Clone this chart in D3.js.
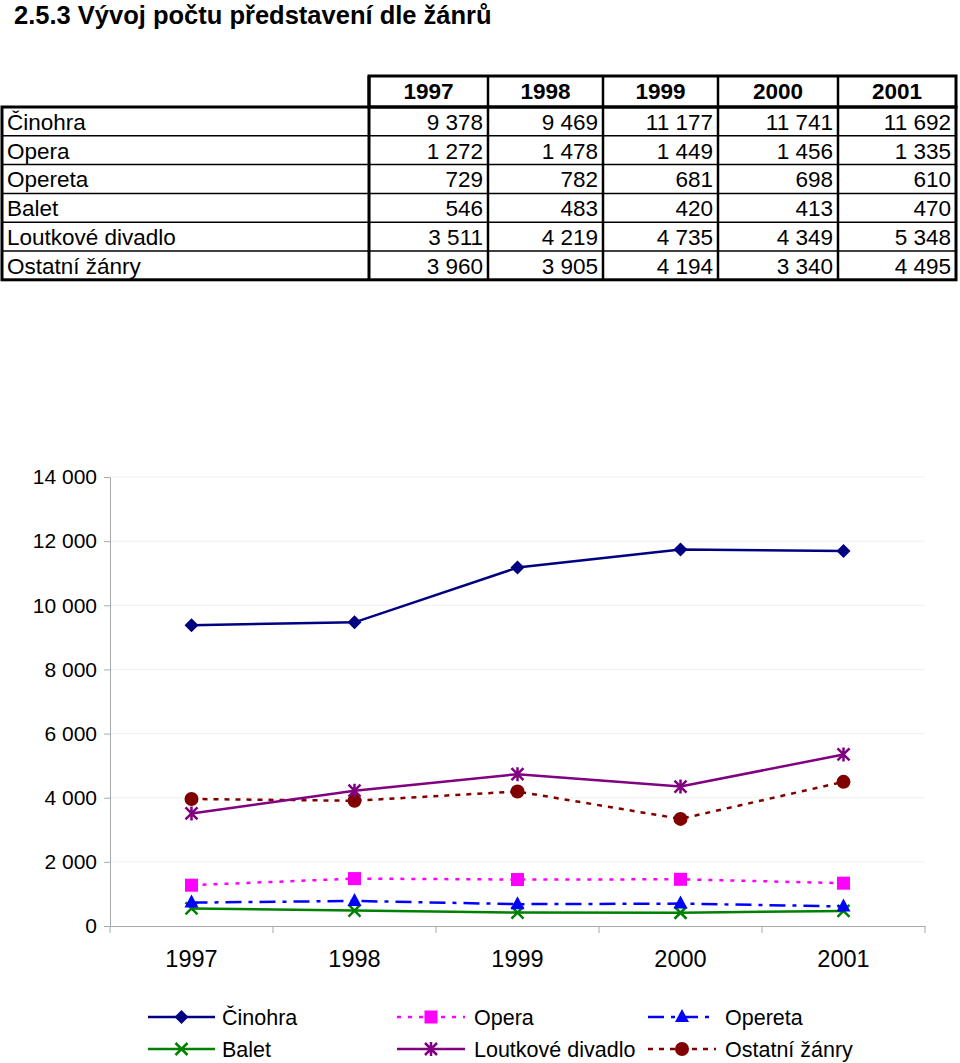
<!DOCTYPE html>
<html><head><meta charset="utf-8">
<script src="https://cdn.jsdelivr.net/npm/d3@7"></script>
<style>body{margin:0;background:#fff;} svg{display:block;font-family:"Liberation Sans",Arial,sans-serif;}</style>
</head><body>
<script>
const years = ["1997","1998","1999","2000","2001"];
const genres = ["Činohra","Opera","Opereta","Balet","Loutkové divadlo","Ostatní žánry"];
const cinohra = [9378,9469,11177,11741,11692];
const opera = [1272,1478,1449,1456,1335];
const opereta = [729,782,681,698,610];
const balet = [546,483,420,413,470];
const loutkove = [3511,4219,4735,4349,5348];
const ostatni = [3960,3905,4194,3340,4495];
const yTicks = [0,2000,4000,6000,8000,10000,12000,14000];
const seriesValues = [cinohra,opera,opereta,balet,loutkove,ostatni];

const styles = [
  {color:"#000080", dash:null, marker:"diamond"},
  {color:"#FF00FF", dash:"4,7", marker:"square"},
  {color:"#0000FF", dash:"16,7,4,7", marker:"triangle"},
  {color:"#008000", dash:null, marker:"x"},
  {color:"#800080", dash:null, marker:"star"},
  {color:"#800000", dash:"5,6", marker:"circle"}
];

const W=960,H=1063;
const svg=d3.select("body").append("svg").attr("width",W).attr("height",H);
const fmt = v => d3.format(",")(v).replace(/,/g," ");

// Title
svg.append("text").attr("x",14).attr("y",24).attr("font-size",25.5).attr("font-weight","bold").text("2.5.3 Vývoj počtu představení dle žánrů");

// Table
const colEdges=[2,369,488,603,718,838,956];
const rowTop=107,rowH=28.8,headTop=76;
const tg=svg.append("g");
tg.append("rect").attr("x",369).attr("y",headTop).attr("width",956-369).attr("height",rowTop-headTop).attr("fill","none").attr("stroke","#000").attr("stroke-width",3);
years.forEach((yy,i)=>{
  const x0=colEdges[i+1],x1=colEdges[i+2];
  tg.append("text").attr("x",(x0+x1)/2).attr("y",rowTop-8).attr("text-anchor","middle").attr("font-weight","bold").attr("font-size",22.5).text(yy);
});
const tableBottom=rowTop+rowH*genres.length;
tg.append("rect").attr("x",2).attr("y",rowTop).attr("width",954).attr("height",tableBottom-rowTop).attr("fill","none").attr("stroke","#000").attr("stroke-width",3);
genres.forEach((g,r)=>{
  const y0=rowTop+r*rowH;
  if(r>0) tg.append("line").attr("x1",2).attr("x2",956).attr("y1",y0).attr("y2",y0).attr("stroke","#000").attr("stroke-width",1.5);
  tg.append("text").attr("x",7).attr("y",y0+rowH-6).attr("font-size",22.5).text(g);
  seriesValues[r].forEach((v,i)=>{
    tg.append("text").attr("x",colEdges[i+2]-5).attr("y",y0+rowH-6).attr("font-size",22.5).attr("text-anchor","end").text(fmt(v));
  });
});
for(let i=1;i<colEdges.length-1;i++){
  tg.append("line").attr("x1",colEdges[i]).attr("x2",colEdges[i]).attr("y1",headTop).attr("y2",tableBottom).attr("stroke","#000").attr("stroke-width",i===1?3:2.5);
}

// Chart
const pLeft=110,pRight=925,pTop=477,pBottom=926;
const x=d3.scaleBand().domain(years).range([pLeft,pRight]);
const y=d3.scaleLinear().domain([0,14000]).range([pBottom,pTop]);
const cg=svg.append("g");
yTicks.forEach(t=>{
  if(t>0) cg.append("line").attr("x1",pLeft).attr("x2",pRight).attr("y1",y(t)).attr("y2",y(t)).attr("stroke","#f0f0f0").attr("stroke-width",1);
});
const yAxis=cg.append("g").attr("transform",`translate(${pLeft},0)`).call(d3.axisLeft(y).tickValues(yTicks).tickSize(6).tickPadding(7).tickFormat(fmt));
yAxis.attr("font-size",null).attr("font-family",null);
yAxis.select(".domain").attr("stroke","#aaa");
yAxis.selectAll(".tick line").attr("stroke","#aaa");
yAxis.selectAll("text").style("font-size","21px").attr("fill","#000");
const xAxis=cg.append("g").attr("transform",`translate(0,${pBottom})`).call(d3.axisBottom(x).tickSize(0).tickPadding(24));
xAxis.attr("font-size",null).attr("font-family",null);
xAxis.select(".domain").attr("stroke","#aaa");
xAxis.selectAll("text").style("font-size","23.5px").attr("fill","#000");
const edges=[pLeft].concat(years.map(yy=>x(yy)+x.bandwidth()));
edges.forEach(e=>cg.append("line").attr("x1",e).attr("x2",e).attr("y1",pBottom).attr("y2",pBottom+7).attr("stroke","#aaa"));

function drawMarker(g,type,cx,cy,color){
  if(type==="diamond"){
    g.append("path").attr("d",`M${cx},${cy-7}L${cx+7},${cy}L${cx},${cy+7}L${cx-7},${cy}Z`).attr("fill",color);
  } else if(type==="square"){
    g.append("rect").attr("x",cx-6.5).attr("y",cy-6.5).attr("width",13).attr("height",13).attr("fill",color);
  } else if(type==="triangle"){
    g.append("path").attr("d",`M${cx},${cy-8}L${cx+7},${cy+5}L${cx-7},${cy+5}Z`).attr("fill",color);
  } else if(type==="x"){
    g.append("path").attr("d",`M${cx-6},${cy-6}L${cx+6},${cy+6}M${cx-6},${cy+6}L${cx+6},${cy-6}`).attr("stroke",color).attr("stroke-width",2.5);
  } else if(type==="star"){
    g.append("path").attr("d",`M${cx-6},${cy-6}L${cx+6},${cy+6}M${cx-6},${cy+6}L${cx+6},${cy-6}M${cx},${cy-7}L${cx},${cy+7}`).attr("stroke",color).attr("stroke-width",2.5);
  } else if(type==="circle"){
    g.append("circle").attr("cx",cx).attr("cy",cy).attr("r",7).attr("fill",color);
  }
}

const line=d3.line().x((d,i)=>x(years[i])+x.bandwidth()/2).y(d=>y(d));
const order=[3,2,1,5,4,0];
order.forEach(si=>{
  const st=styles[si],vals=seriesValues[si];
  const g=cg.append("g");
  g.append("path").datum(vals).attr("d",line).attr("fill","none").attr("stroke",st.color).attr("stroke-width",2.5).attr("stroke-dasharray",st.dash);
  vals.forEach((v,i)=>drawMarker(g,st.marker,x(years[i])+x.bandwidth()/2,y(v),st.color));
});

// Legend
const lg=svg.append("g");
const legCols=[{x0:148,x1:215,tx:222},{x0:397,x1:465,tx:474},{x0:648,x1:716,tx:725}];
const legRows=[1017,1049];
genres.forEach((gname,i)=>{
  const c=legCols[i%3],ry=legRows[Math.floor(i/3)],st=styles[i];
  lg.append("line").attr("x1",c.x0).attr("x2",c.x1).attr("y1",ry).attr("y2",ry).attr("stroke",st.color).attr("stroke-width",2.5).attr("stroke-dasharray",st.dash);
  drawMarker(lg,st.marker,(c.x0+c.x1)/2,ry,st.color);
  lg.append("text").attr("x",c.tx).attr("y",ry+8).attr("font-size",21.5).text(gname);
});
</script>
</body></html>
